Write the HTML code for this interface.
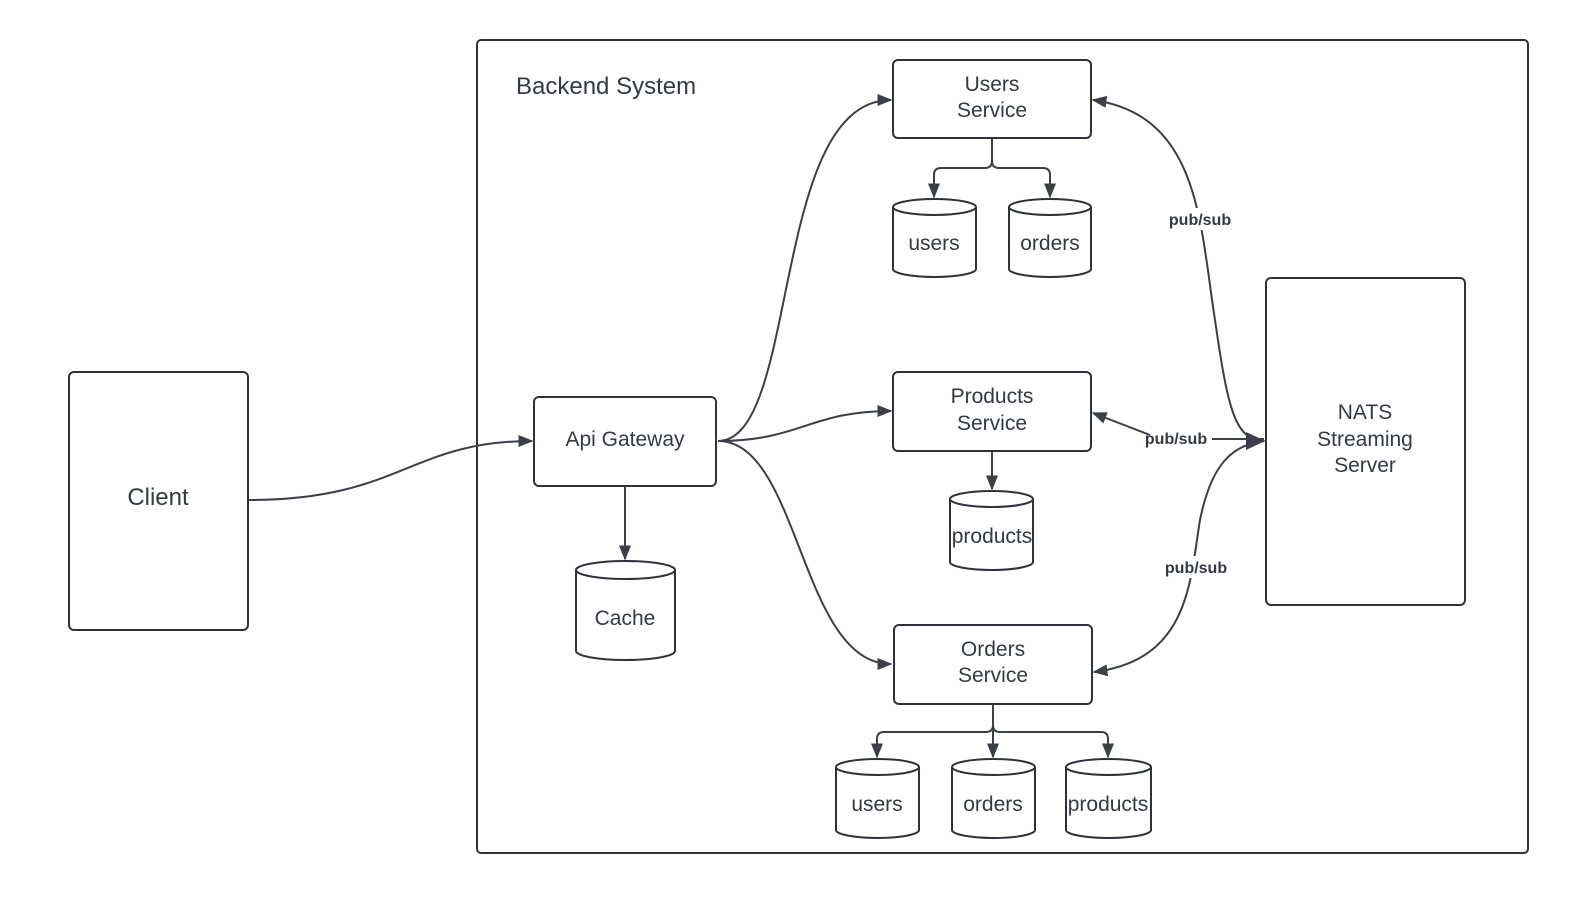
<!DOCTYPE html>
<html><head><meta charset="utf-8"><style>
html,body{margin:0;padding:0;background:#fff;}
svg{display:block}
text{font-family:"Liberation Sans",sans-serif;fill:#333a44}
</style></head><body>
<svg width="1580" height="900" viewBox="0 0 1580 900" xmlns="http://www.w3.org/2000/svg">
<defs>
<marker id="a" viewBox="0 0 10 10" refX="9" refY="5" markerWidth="15" markerHeight="15" markerUnits="userSpaceOnUse" orient="auto-start-reverse">
<path d="M0,1 L10,5 L0,9 z" fill="#3a3f49"/></marker>
<marker id="b" viewBox="0 0 10 10" refX="9" refY="5" markerWidth="18" markerHeight="18" markerUnits="userSpaceOnUse" orient="auto-start-reverse">
<path d="M0,1 L10,5 L0,9 z" fill="#3a3f49"/></marker>
</defs>
<g fill="none" stroke="#2e333b" stroke-width="2">
<rect x="477" y="40" width="1051" height="813" rx="4"/>
<rect x="69" y="372" width="179" height="258" rx="5"/>
<rect x="534" y="397" width="182" height="89" rx="5"/>
<rect x="893" y="60" width="198" height="78" rx="5"/>
<rect x="893" y="372" width="198" height="79" rx="5"/>
<rect x="894" y="625" width="198" height="79" rx="5"/>
<rect x="1266" y="278" width="199" height="327" rx="5"/>
</g>
<g fill="#fff" stroke="#2e333b" stroke-width="2">
<path d="M893,207 v62 a41.5,8 0 0 0 83,0 v-62 a41.5,8 0 0 0 -83,0 a41.5,8 0 0 0 83,0"/>
<path d="M1009,207 v62 a41,8 0 0 0 82,0 v-62 a41,8 0 0 0 -82,0 a41,8 0 0 0 82,0"/>
<path d="M950,499 v63 a41.5,8 0 0 0 83,0 v-63 a41.5,8 0 0 0 -83,0 a41.5,8 0 0 0 83,0"/>
<path d="M576,570 v81 a49.5,9 0 0 0 99,0 v-81 a49.5,9 0 0 0 -99,0 a49.5,9 0 0 0 99,0"/>
<path d="M836,767 v63 a41.5,8 0 0 0 83,0 v-63 a41.5,8 0 0 0 -83,0 a41.5,8 0 0 0 83,0"/>
<path d="M952,767 v63 a41.5,8 0 0 0 83,0 v-63 a41.5,8 0 0 0 -83,0 a41.5,8 0 0 0 83,0"/>
<path d="M1066,767 v63 a42.5,8 0 0 0 85,0 v-63 a42.5,8 0 0 0 -85,0 a42.5,8 0 0 0 85,0"/>
</g>
<g fill="none" stroke="#3a3f49" stroke-width="2">
<path d="M249,500 C400,500 410,441 532,441" marker-end="url(#a)"/>
<path d="M718,441 C800,441 770,100 891,100" marker-end="url(#a)"/>
<path d="M718,441 C800,441 810,411 891,411" marker-end="url(#a)"/>
<path d="M718,441 C800,441 800,664 891,664" marker-end="url(#a)"/>
<path d="M625,487 V559" marker-end="url(#a)"/>
<path d="M992,139 V161 q0,7 -7,7 H941 q-7,0 -7,7 V197" marker-end="url(#a)"/>
<path d="M992,161 q0,7 7,7 H1043 q7,0 7,7 V197" marker-end="url(#a)"/>
<path d="M992,452 V489" marker-end="url(#a)"/>
<path d="M993,705 V725 q0,7 -7,7 H884 q-7,0 -7,7 V757" marker-end="url(#a)"/>
<path d="M993,725 V757" marker-end="url(#a)"/>
<path d="M993,725 q0,7 7,7 H1101 q7,0 7,7 V757" marker-end="url(#a)"/>
<path d="M1093,100 C1200,115 1200,225 1215,320 C1228,410 1235,440 1264,441" marker-start="url(#a)" marker-end="url(#b)"/>
<path d="M1093,413 L1150,435 M1212,439 H1264" marker-start="url(#a)"/>
<path d="M1094,672 C1190,660 1190,580 1200,520 C1212,460 1235,445 1264,441" marker-start="url(#a)"/>
</g>
<polygon points="1265,441 1246,432 1246,450" fill="#3a3f49"/>
<rect x="1162" y="208" width="76" height="22" fill="#fff"/>
<rect x="1158" y="556" width="76" height="22" fill="#fff"/>
<g text-anchor="middle" font-size="21">
<text x="158" y="505" font-size="24">Client</text>
<text x="625" y="446">Api Gateway</text>
<text x="992" y="91">Users</text><text x="992" y="117">Service</text>
<text x="992" y="403">Products</text><text x="992" y="430">Service</text>
<text x="993" y="656">Orders</text><text x="993" y="682">Service</text>
<text x="1365" y="419">NATS</text><text x="1365" y="446">Streaming</text><text x="1365" y="472">Server</text>
<text x="934" y="250">users</text>
<text x="1050" y="250">orders</text>
<text x="992" y="543">products</text>
<text x="625" y="625">Cache</text>
<text x="877" y="811">users</text>
<text x="993" y="811">orders</text>
<text x="1108" y="811">products</text>
<g font-size="16" font-weight="bold">
<text x="1200" y="225">pub/sub</text>
<text x="1176" y="444">pub/sub</text>
<text x="1196" y="573">pub/sub</text>
</g>
</g>
<text x="516" y="94" font-size="24">Backend System</text>
</svg>
</body></html>
